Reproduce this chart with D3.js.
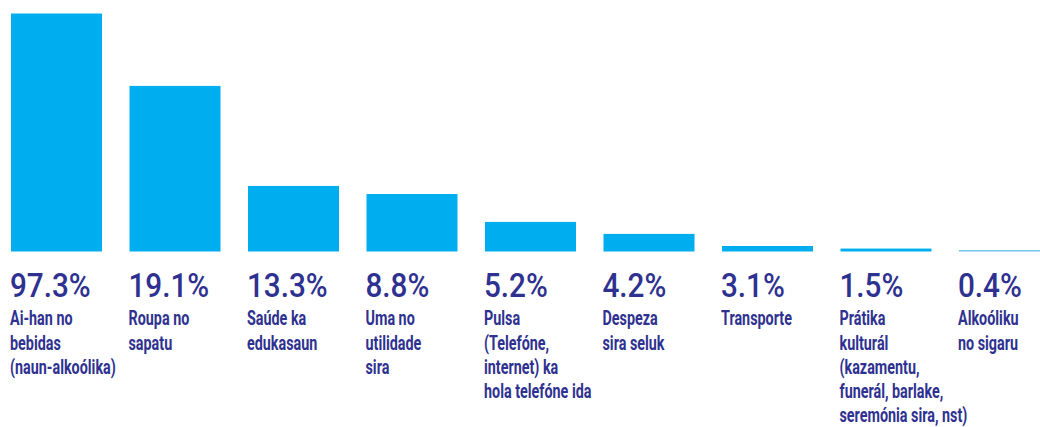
<!DOCTYPE html>
<html>
<head>
<meta charset="utf-8">
<script src="https://cdn.jsdelivr.net/npm/d3@7/dist/d3.min.js"></script>
<style>
html,body{margin:0;padding:0;background:#fff;}
svg{display:block;}
</style>
</head>
<body>
<svg id="chart" width="1040" height="427"></svg>
<script>
// Data
const categories = [
  ["Ai-han no", "bebidas", "(naun-alkoólika)"],
  ["Roupa no", "sapatu"],
  ["Saúde ka", "edukasaun"],
  ["Uma no", "utilidade", "sira"],
  ["Pulsa", "(Telefóne,", "internet) ka", "hola telefóne ida"],
  ["Despeza", "sira seluk"],
  ["Transporte"],
  ["Prátika", "kulturál", "(kazamentu,", "funerál, barlake,", "seremónia sira, nst)"],
  ["Alkoóliku", "no sigaru"]
];
const values = [97.3, 19.1, 13.3, 8.8, 5.2, 4.2, 3.1, 1.5, 0.4];
// bar lengths as drawn in the original graphic (not to scale with the values)
const barLengths = [97.3, 67.7, 26.8, 23.5, 12.1, 7.2, 2.25, 1.2, 0.6];

const svg = d3.select("#chart");
const baseY = 251.5;
const x = d3.scaleBand().domain(d3.range(values.length)).range([11, 1050]).paddingInner(0.232).paddingOuter(0);
const y = d3.scaleLinear().domain([0, 97.3]).range([baseY, 13.5]);

const barColor = "#00aeef";
const textColor = "#2e3190";
const font = "'Roboto', 'Liberation Sans', sans-serif";

svg.selectAll("rect.bar").data(barLengths).join("rect")
  .attr("class", "bar")
  .attr("x", (d, i) => x(i))
  .attr("width", x.bandwidth())
  .attr("y", d => y(d))
  .attr("height", d => baseY - y(d))
  .attr("fill", (d, i) => i === values.length - 1 ? "#6cc6ec" : barColor);

const g = svg.selectAll("g.lbl").data(values).join("g")
  .attr("class", "lbl")
  .attr("transform", (d, i) => `translate(${x(i) - 1},0)`);

g.append("text")
  .attr("y", 297)
  .attr("font-family", font)
  .attr("font-size", 33)
  .attr("font-weight", 500)
  .attr("fill", textColor)
  .attr("transform", "scale(0.9,1)")
  .text(d => d.toFixed(1) + "%");

g.each(function(d, i) {
  const t = d3.select(this).append("text")
    .attr("font-family", font)
    .attr("font-size", 20.5)
    .attr("font-weight", "bold")
    .attr("fill", textColor)
    .attr("transform", "scale(0.7,1)");
  t.selectAll("tspan").data(categories[i]).join("tspan")
    .attr("x", 0)
    .attr("y", (s, k) => 325.5 + k * 24.2)
    .text(s => s);
});
</script>
</body>
</html>
